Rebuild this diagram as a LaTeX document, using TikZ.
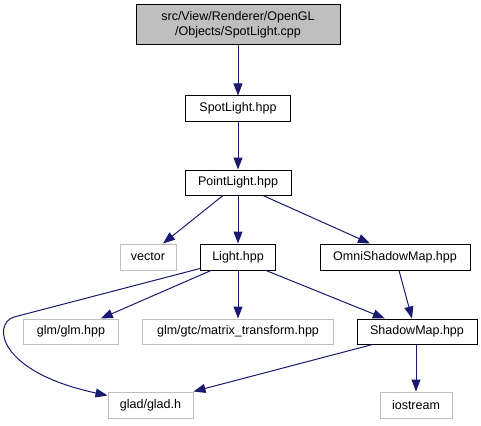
\documentclass[tikz,border=0pt]{standalone}
\usepackage{fontspec}
\setmainfont{Liberation Sans}
\usetikzlibrary{arrows.meta}
\definecolor{edgec}{HTML}{191970}
\definecolor{grayb}{HTML}{BFBFBF}
\tikzset{
  box/.style={draw=black, line width=1pt, fill=white, inner sep=0pt, font=\fontsize{12.5}{15}\selectfont},
  graybox/.style={box, draw=grayb},
  edge/.style={draw=edgec, line width=1pt, -{Triangle[length=12pt,width=9pt]}}
}
\begin{document}
\begin{tikzpicture}[x=1pt,y=-1pt]
\useasboundingbox (0,0) rectangle (481,425);
\node[box, fill=grayb, minimum width=204pt, minimum height=40pt, align=center] (top) at (238,25) {src/View/Renderer/OpenGL\\/Objects/SpotLight.cpp};
\node[box, minimum width=105pt, minimum height=25pt] (spot) at (238,108.5) {SpotLight.hpp};
\node[box, minimum width=106pt, minimum height=25pt] (point) at (238,182.5) {PointLight.hpp};
\node[graybox, minimum width=56pt, minimum height=26pt] (vector) at (148,257) {vector};
\node[box, minimum width=75pt, minimum height=26pt] (light) at (238,257) {Light.hpp};
\node[box, minimum width=150pt, minimum height=26pt] (omni) at (395,257) {OmniShadowMap.hpp};
\node[graybox, minimum width=95pt, minimum height=25pt] (glm) at (71,331.5) {glm/glm.hpp};
\node[graybox, minimum width=191pt, minimum height=25pt] (matrix) at (238,331.5) {glm/gtc/matrix\_transform.hpp};
\node[box, minimum width=120pt, minimum height=25pt] (shadow) at (417,331.5) {ShadowMap.hpp};
\node[graybox, minimum width=85pt, minimum height=26pt] (glad) at (150.5,405) {glad/glad.h};
\node[graybox, minimum width=72pt, minimum height=26pt] (ios) at (416,405) {iostream};
\coordinate (bend) at (14,317);

\draw[edge] (top) -- (spot);
\draw[edge] (spot) -- (point);
\draw[edge] ([xshift=-15pt]point.south) -- ([xshift=15pt]vector.north);
\draw[edge] (point) -- (light);
\draw[edge] ([xshift=25pt]point.south) -- ([xshift=-25pt]omni.north);
\draw[edge] ([yshift=2pt]light.south west) -- (bend) .. controls (-8,324) and (-2,372) .. ([yshift=-4pt]glad.north west);
\draw[edge] ([xshift=11pt]light.south west) -- (glm);
\draw[edge] (light) -- (matrix);
\draw[edge] ([xshift=-10pt]light.south east) -- (shadow);
\draw[edge] ([xshift=4pt]omni.south) -- ([xshift=-5pt]shadow.north);
\draw[edge] ([xshift=16pt]shadow.south west) -- (glad.north east);
\draw[edge] ([xshift=-1pt]shadow.south) -- (ios);
\end{tikzpicture}
\end{document}
